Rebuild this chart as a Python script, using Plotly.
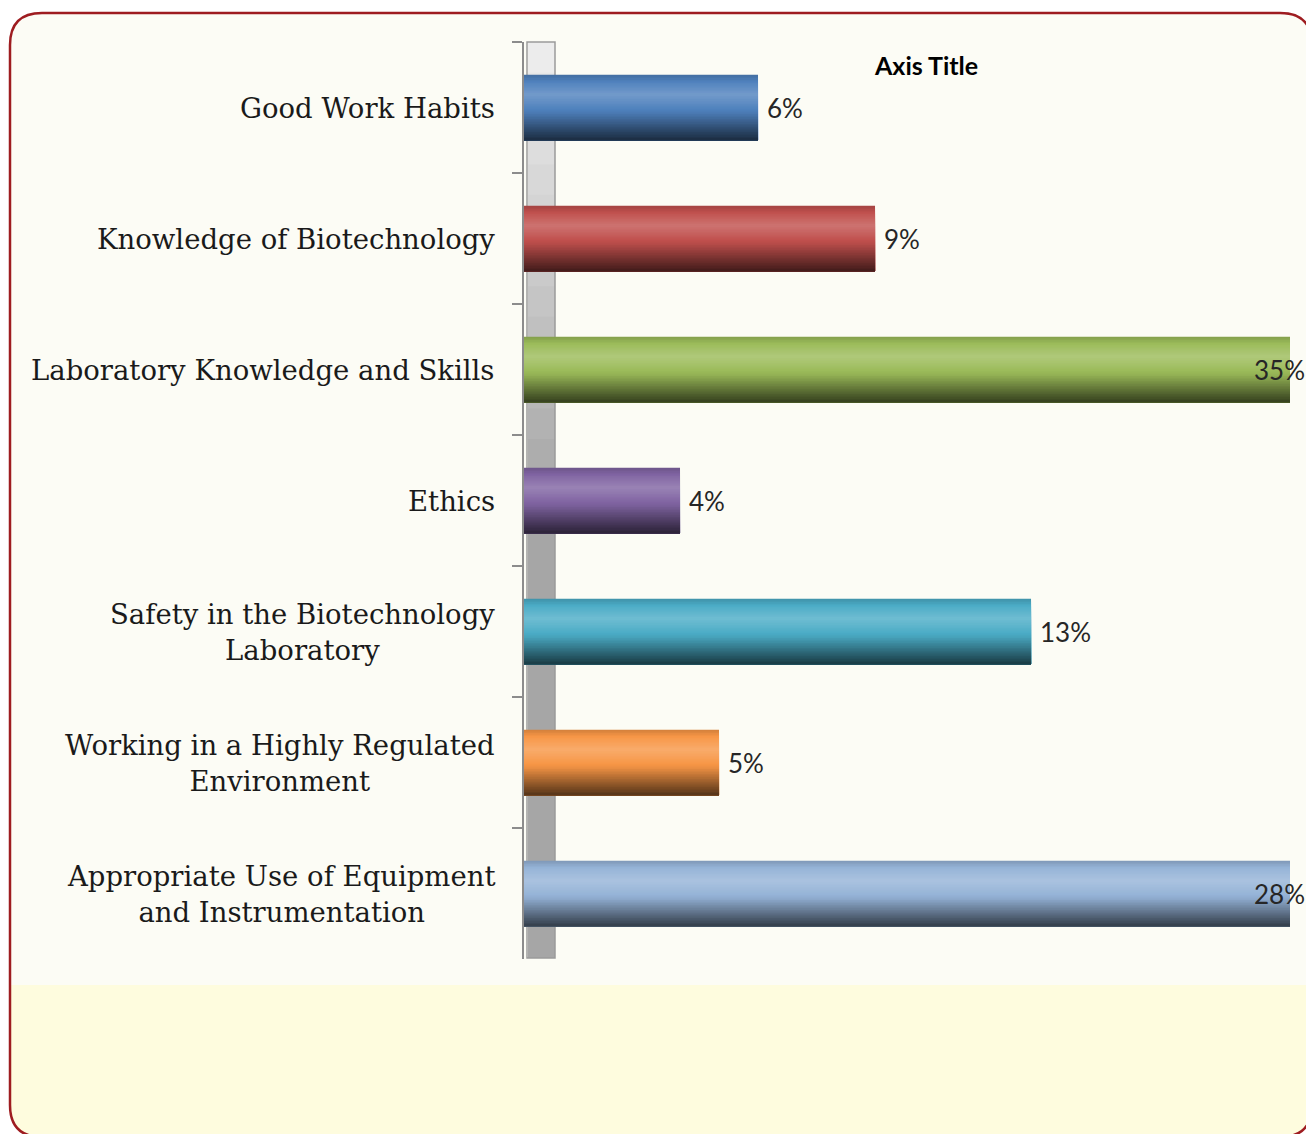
import plotly.graph_objects as go

# ---------------- data ----------------
categories = [
    "Good Work Habits",
    "Knowledge of Biotechnology",
    "Laboratory Knowledge and Skills",
    "Ethics",
    "Safety in the Biotechnology<br>Laboratory",
    "Working in a Highly Regulated<br>Environment",
    "Appropriate Use of Equipment<br>and Instrumentation",
]
values = [6, 9, 35, 4, 13, 5, 28]
value_labels = ["6%", "9%", "35%", "4%", "13%", "5%", "28%"]
bar_colors = ["#4F81BD", "#C0504D", "#9BBB59", "#8064A2", "#4BACC6", "#F79646", "#95B3D7"]
x_max = 19.64          # axis maximum of the reference (long bars are cut off)
axis_title = "Axis Title"

# ---------------- layout geometry ----------------
W, H = 1306, 1134
ML, MR, MT, MB = 524, 16, 42, 175
PW, PH = W - ML - MR, H - MT - MB


def px2paper_x(px):
    return (px - ML) / PW


def px2paper_y(py):
    return (H - MB - py) / PH


def hex2rgb(h):
    h = h.lstrip("#")
    return tuple(int(h[i:i + 2], 16) for i in (0, 2, 4))


def shade(h, f):
    r, g, b = hex2rgb(h)
    if f >= 0:
        r, g, b = [c + (255 - c) * f for c in (r, g, b)]
    else:
        r, g, b = [c * (1 + f) for c in (r, g, b)]
    return "rgb(%d,%d,%d)" % (round(r), round(g), round(b))


def rounded_rect_path(x0, y0, x1, y1, r, rb=True, rt=True):
    X = px2paper_x
    Y = px2paper_y
    rx = r / PW
    ry = r / PH
    a, b, c, d = X(x0), Y(y1), X(x1), Y(y0)
    p = []
    if rt:
        p.append(f"M {a},{d - ry} Q {a},{d} {a + rx},{d} L {c - rx},{d} Q {c},{d} {c},{d - ry}")
    else:
        p.append(f"M {a},{d} L {c},{d}")
    if rb:
        p.append(f"L {c},{b + ry} Q {c},{b} {c - rx},{b} L {a + rx},{b} Q {a},{b} {a},{b + ry} Z")
    else:
        p.append(f"L {c},{b} L {a},{b} Z")
    return " ".join(p)


fig = go.Figure()

# ---------------- bars (cylinder-like shading) ----------------
bar_w = 0.5
profile = [(0.0, -0.15), (0.12, 0.02), (0.3, 0.2), (0.42, 0.1), (0.58, -0.05),
           (0.75, -0.3), (0.9, -0.52), (1.0, -0.65)]


def factor_at(t):
    for (t0, f0), (t1, f1) in zip(profile[:-1], profile[1:]):
        if t0 <= t <= t1:
            return f0 + (f1 - f0) * (t - t0) / (t1 - t0)
    return profile[-1][1]


n_strips = 40
for k in range(n_strips):
    t0 = k / n_strips
    tm = (k + 0.5) / n_strips
    f = factor_at(tm)
    fig.add_trace(go.Bar(
        x=values,
        y=categories,
        orientation="h",
        width=bar_w * (1 - t0),
        offset=-bar_w / 2 + t0 * bar_w,
        marker=dict(color=[shade(c, f) for c in bar_colors], line=dict(width=0)),
        hoverinfo="skip",
        showlegend=False,
    ))

# ---------------- background / frame shapes ----------------
shapes = []
shapes.append(dict(type="path", xref="paper", yref="paper",
                   path=rounded_rect_path(10, 13, 1312, 1137, 32),
                   fillcolor="#FCFCF5", line=dict(width=0), layer="below"))
shapes.append(dict(type="path", xref="paper", yref="paper",
                   path=rounded_rect_path(10, 985, 1312, 1137, 32, rt=False),
                   fillcolor="#FEFCDE", line=dict(width=0), layer="below"))
shapes.append(dict(type="path", xref="paper", yref="paper",
                   path=rounded_rect_path(10, 13, 1312, 1137, 32),
                   fillcolor="rgba(0,0,0,0)", line=dict(color="#9E1C20", width=2.5), layer="above"))

# wall behind bars (vertical gradient light -> gray)
wall_top, wall_bot = 42, 958
n_wall = 30
for k in range(n_wall):
    y0 = wall_top + (wall_bot - wall_top) * k / n_wall
    t = min(1.0, (k + 0.5) / n_wall / 0.5)
    g = round(238 - (238 - 166) * t)
    shapes.append(dict(type="rect", xref="x", xsizemode="pixel", xanchor=0,
                       x0=4, x1=31, yref="paper",
                       y0=px2paper_y(wall_bot), y1=px2paper_y(y0),
                       fillcolor=f"rgb({g},{g},{g})", line=dict(width=0), layer="below"))
shapes.append(dict(type="rect", xref="x", xsizemode="pixel", xanchor=0,
                   x0=3, x1=31, yref="paper", y0=px2paper_y(wall_bot), y1=px2paper_y(wall_top),
                   fillcolor="rgba(0,0,0,0)", line=dict(color="#9A9A9A", width=1.5), layer="below"))

# ---------------- annotations ----------------
annotations = []
for cat in categories:
    annotations.append(dict(
        x=0, xref="paper", y=cat, yref="y", xanchor="right", yanchor="middle",
        xshift=-27, text=cat, showarrow=False, align="center",
        font=dict(family="DejaVu Serif", size=27.5, color="#1A1A1A"),
    ))
for cat, v, lab in zip(categories, values, value_labels):
    if v <= x_max:
        annotations.append(dict(x=v, xref="x", y=cat, yref="y", xanchor="left", yanchor="middle",
                                xshift=7, text=lab, showarrow=False,
                                font=dict(family="Lato", size=26, color="#262626")))
    else:
        annotations.append(dict(x=x_max, xref="x", y=cat, yref="y", xanchor="right", yanchor="middle",
                                xshift=17, text=lab, showarrow=False,
                                font=dict(family="Lato", size=26, color="#262626")))
annotations.append(dict(x=px2paper_x(926), xref="paper", y=px2paper_y(65), yref="paper",
                        xanchor="center", yanchor="middle", text="<b>%s</b>" % axis_title,
                        showarrow=False, font=dict(family="Lato", size=25, color="#000000")))

fig.update_layout(
    width=W, height=H,
    margin=dict(l=ML, r=MR, t=MT, b=MB),
    paper_bgcolor="#FFFFFF",
    plot_bgcolor="rgba(0,0,0,0)",
    barmode="overlay",
    bargap=0.5,
    shapes=shapes,
    annotations=annotations,
    showlegend=False,
    xaxis=dict(range=[0, x_max], showgrid=False, zeroline=False, showticklabels=False,
               showline=False, ticks=""),
    yaxis=dict(autorange="reversed", type="category", showticklabels=False,
               ticks="outside", tickson="boundaries", ticklen=10, tickwidth=1.5,
               tickcolor="#8C8C8C", showline=True, linecolor="#8C8C8C", linewidth=1.5,
               showgrid=False, zeroline=False),
)

fig.write_html("out.html")
